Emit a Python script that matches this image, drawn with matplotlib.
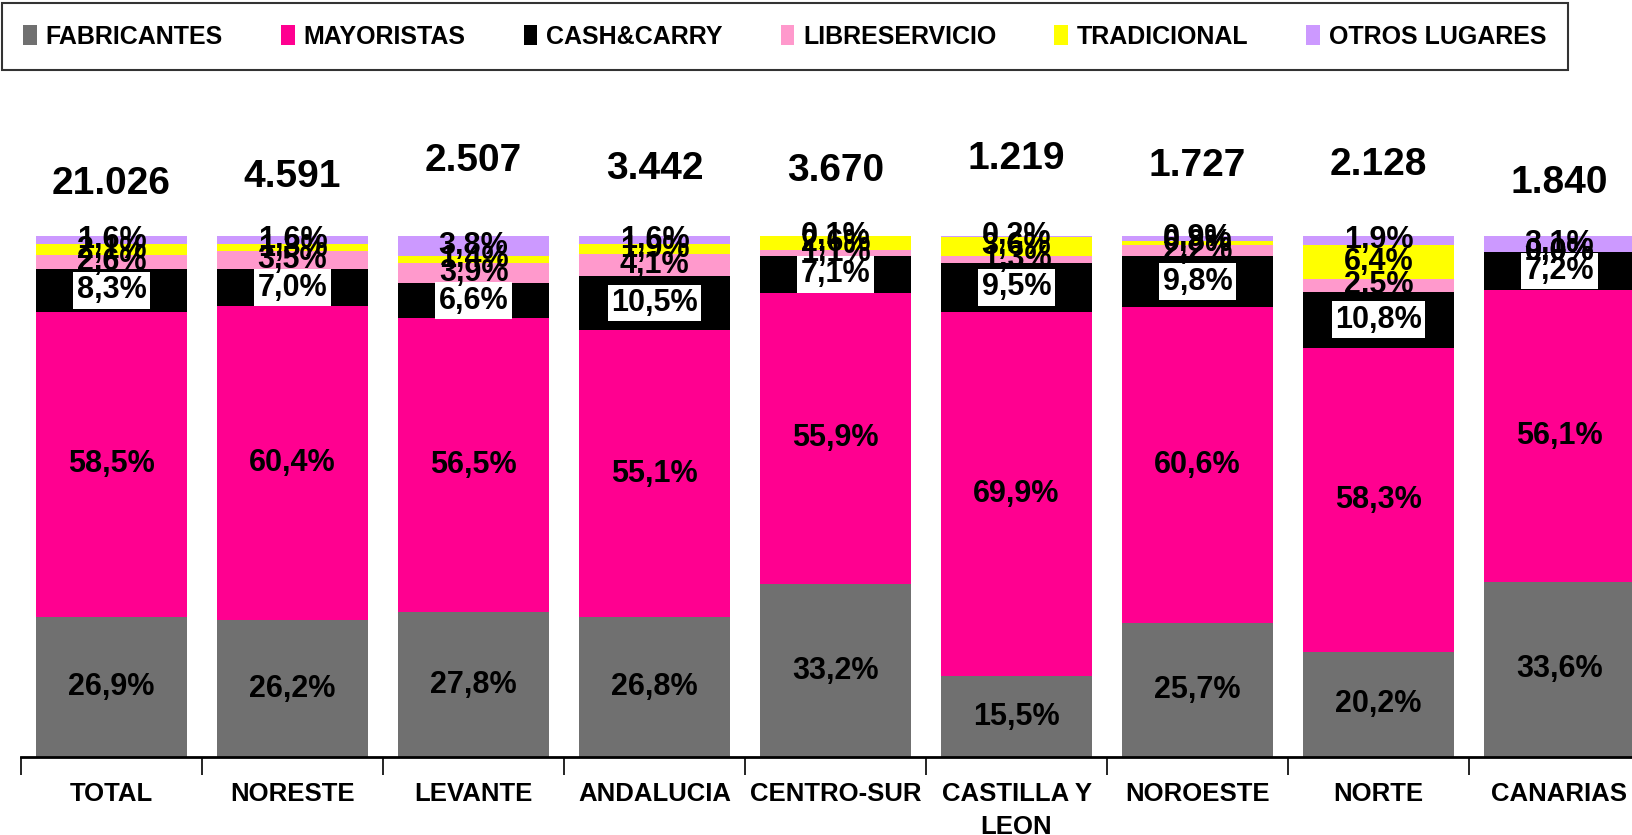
import matplotlib
matplotlib.use("Agg")
import matplotlib.pyplot as plt
import numpy as np

plt.rcParams["font.family"] = ["Liberation Sans", "DejaVu Sans"]
plt.rcParams["font.weight"] = "bold"

# Share of purchases by channel (%) for each region
regions = ["TOTAL", "NORESTE", "LEVANTE", "ANDALUCIA", "CENTRO-SUR",
           "CASTILLA Y\nLEON", "NOROESTE", "NORTE", "CANARIAS"]
fabricantes = [26.9, 26.2, 27.8, 26.8, 33.2, 15.5, 25.7, 20.2, 33.6]
mayoristas = [58.5, 60.4, 56.5, 55.1, 55.9, 69.9, 60.6, 58.3, 56.1]
cash_carry = [8.3, 7.0, 6.6, 10.5, 7.1, 9.5, 9.8, 10.8, 7.2]
libreservicio = [2.6, 3.5, 3.9, 4.1, 1.1, 1.3, 2.2, 2.5, 0.0]
tradicional = [2.1, 1.3, 1.4, 1.9, 2.6, 3.6, 0.8, 6.4, 0.0]
otros = [1.6, 1.6, 3.8, 1.6, 0.1, 0.2, 0.9, 1.9, 3.1]
totals = [21026, 4591, 2507, 3442, 3670, 1219, 1727, 2128, 1840]

series = [
    ("FABRICANTES", fabricantes, "#707070"),
    ("MAYORISTAS", mayoristas, "#FF0090"),
    ("CASH&CARRY", cash_carry, "#000000"),
    ("LIBRESERVICIO", libreservicio, "#FF99CC"),
    ("TRADICIONAL", tradicional, "#FFFF00"),
    ("OTROS LUGARES", otros, "#CC99FF"),
]

# height (in % units) at which each total is written above its bar
total_label_y = [110.0, 111.3, 114.4, 112.9, 112.5, 114.8, 113.4, 113.6, 110.2]


def pct(v):
    return f"{v:.1f}".replace(".", ",") + "%"


fig = plt.figure(figsize=(16.33, 8.35), dpi=100)
ax = fig.add_axes([0.0129, 0.0934, 0.9975, 0.624])

x = np.arange(len(regions))
bottom = np.zeros(len(regions))
for name, vals, color in series:
    vals = np.array(vals)
    ax.bar(x, vals, 0.835, bottom=bottom, color=color, label=name, zorder=2)
    for xi, b, v in zip(x, bottom, vals):
        kw = {}
        if name == "CASH&CARRY":
            kw["bbox"] = dict(facecolor="white", edgecolor="none", pad=2.5)
        ax.text(xi, b + v / 2, pct(v), ha="center", va="center",
                fontsize=22, fontweight="bold", color="black", zorder=5, **kw)
    bottom += vals

for xi, t, yl in zip(x, totals, total_label_y):
    ax.text(xi, yl, f"{t:,}".replace(",", "."), ha="center", va="center",
            fontsize=28, fontweight="bold", clip_on=False)

ax.set_xlim(-0.5, len(regions) - 0.5)
ax.set_ylim(0, 100)
ax.set_yticks([])
for s in ("left", "top", "right"):
    ax.spines[s].set_visible(False)
ax.spines["bottom"].set_linewidth(2)

ax.set_xticks(x)
ax.set_xticklabels(regions, fontsize=18.5, fontweight="bold", va="top",
                   linespacing=1.45)
ax.tick_params(axis="x", which="major", length=0, pad=18)
ax.set_xticks(np.arange(len(regions) + 1) - 0.5, minor=True)
ax.tick_params(axis="x", which="minor", length=13, width=1.2, direction="out")

leg = fig.legend(loc="center", ncol=6, mode="expand",
                 bbox_to_anchor=(0.0013, 0.915, 0.9587, 0.0825),
                 borderaxespad=0, fontsize=18, frameon=True, fancybox=False,
                 handlelength=0.55, handleheight=0.9, handletextpad=0.35,
                 borderpad=0.85, columnspacing=1.0)
leg.get_frame().set_edgecolor("black")
leg.get_frame().set_linewidth(1.5)
for t in leg.get_texts():
    t.set_fontweight("bold")

fig.savefig("out.png", dpi=100)
